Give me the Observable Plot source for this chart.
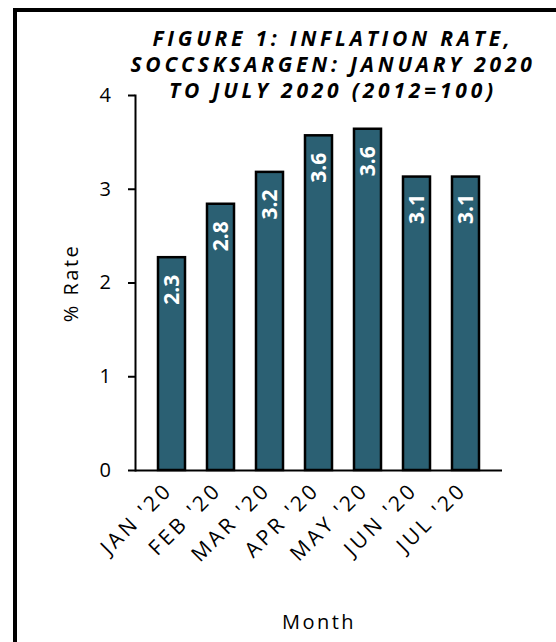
<!DOCTYPE html>
<html><head><meta charset="utf-8">
<script src="https://cdn.jsdelivr.net/npm/d3@7"></script>
<script src="https://cdn.jsdelivr.net/npm/@observablehq/plot@0.6"></script>
<style>
html,body{margin:0;padding:0;background:#fff;overflow:hidden;}
#wrap{position:relative;width:556px;height:642px;overflow:hidden;}
#border{position:absolute;left:13px;top:8px;width:600px;height:700px;border:4px solid #000;box-sizing:border-box;}
#chart{position:absolute;left:0;top:0;}
</style></head><body>
<div id="wrap"><div id="border"></div><div id="chart"></div></div>
<script>
const months = ["JAN '20","FEB '20","MAR '20","APR '20","MAY '20","JUN '20","JUL '20"];
const rates = [2.27, 2.84, 3.18, 3.57, 3.64, 3.13, 3.13];
const yTicks = [0, 1, 2, 3, 4];
const titleLines = ["FIGURE 1: INFLATION RATE,", "SOCCSKSARGEN: JANUARY 2020", "TO JULY 2020 (2012=100)"];

const data = months.map((m, i) => ({month: m, rate: rates[i]}));
const fmt = d3.format(".1f");

const plot = Plot.plot({
  width: 556, height: 642,
  marginLeft: 135, marginRight: 54, marginTop: 95, marginBottom: 172,
  style: "font-family: 'Open Sans', sans-serif; font-size: 20px; background: transparent; color: #000; overflow: visible;",
  x: {domain: months, padding: 0.45},
  y: {domain: [0, 4]},
  marks: [
    Plot.axisY({ticks: yTicks, tickFormat: d3.format("d"), tickSize: 7, tickPadding: 15, strokeWidth: 2,
      fontSize: 20, label: "% Rate", labelAnchor: "center", labelOffset: 72, labelArrow: "none"}),
    Plot.axisX({tickSize: 0, tickRotate: -45, tickPadding: 22, fontSize: 21, dx: -3, dy: -6,
      label: "Month", labelAnchor: "center", labelOffset: 158, labelArrow: "none"}),
    Plot.barY(data, {x: "month", y: "rate", fill: "#2b6073", stroke: "#000", strokeWidth: 2.5}),
    Plot.ruleY([0], {stroke: "#000", strokeWidth: 2}),
    Plot.frame({anchor: "left", stroke: "#000", strokeWidth: 2}),
    Plot.text(data, {x: "month", y: "rate", text: d => fmt(d.rate), rotate: -90, textAnchor: "end",
      dy: 17, fill: "#fff", fontWeight: "bold", fontSize: 21}),
    Plot.text([titleLines.join("\n")], {frameAnchor: "top", lineAnchor: "top", dx: 14, dy: -68,
      fontSize: 21, fontWeight: "bold", fontStyle: "italic", lineHeight: 26 / 21, fill: "#000"})
  ]
});
const svg = d3.select(plot);
svg.selectAll("g[aria-label='y-axis tick label'], g[aria-label='x-axis label'], g[aria-label='y-axis label']")
  .style("font-size", "20px").style("letter-spacing", "2.5px");
svg.selectAll("g[aria-label='x-axis tick label']").style("font-size", "21px").style("letter-spacing", "3.2px");
svg.selectAll("text").filter(function() { return this.textContent.startsWith("FIGURE"); })
  .style("letter-spacing", "3.8px");
document.getElementById("chart").appendChild(plot);
</script>
</body></html>
